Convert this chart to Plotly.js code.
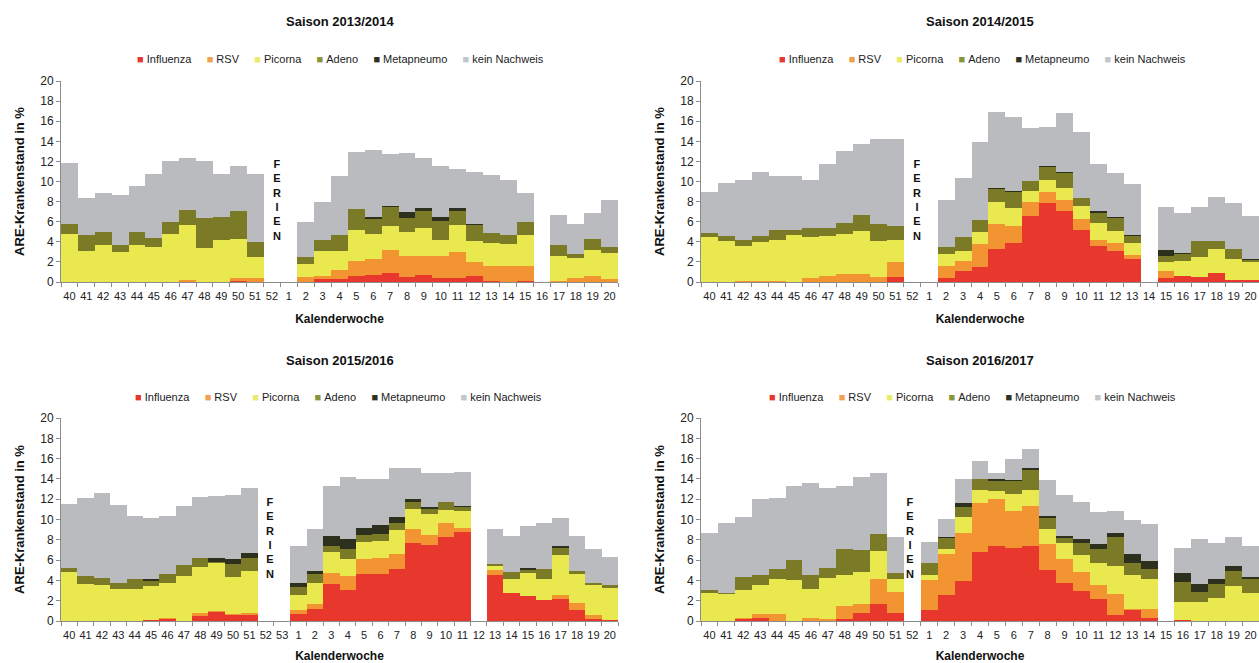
<!DOCTYPE html>
<html><head><meta charset="utf-8">
<script src="https://cdn.plot.ly/plotly-3.0.1.min.js"></script>
<style>html,body{margin:0;padding:0;background:#fff}#chart{width:1259px;height:663px}</style>
</head><body><div id="chart"></div>
<script>
const seriesNames = ["Influenza", "RSV", "Picorna", "Adeno", "Metapneumo", "kein Nachweis"];
const seriesColors = ["#e8372c", "#f39433", "#e9e84e", "#7b7a27", "#2d301d", "#b9bbbe"];
const legendColors = ["#e8372c", "#f0a050", "#eaea70", "#86963a", "#2d301d", "#c4c6c9"];
const seasonTitles = ["Saison 2013/2014", "Saison 2014/2015", "Saison 2015/2016", "Saison 2016/2017"];

const weeksStd = ["40","41","42","43","44","45","46","47","48","49","50","51","52","1","2","3","4","5","6","7","8","9","10","11","12","13","14","15","16","17","18","19","20"];
const weeks53 = ["40","41","42","43","44","45","46","47","48","49","50","51","52","53","1","2","3","4","5","6","7","8","9","10","11","12","13","14","15","16","17","18","19","20"];

// Saison 2013/2014
const inf1314  = [0,0,0,0,0,0,0,0.05,0,0,0.1,0.05,0,0,0.05,0.3,0.3,0.63,0.73,0.93,0.53,0.73,0.4,0.4,0.56,0.07,0,0.13,0,0,0,0,0];
const rsv1314  = [0,0,0,0,0,0,0,0.1,0,0,0.3,0.3,0,0,0.45,0.26,0.85,1.5,1.55,2.3,2.1,1.9,2.15,2.55,1.45,1.55,1.6,1.5,0,0.07,0.43,0.56,0.3];
const pic1314  = [4.8,3.1,3.7,3.0,3.7,3.5,4.8,5.55,3.35,4.15,3.9,2.15,0,0,1.3,2.5,1.95,3.0,2.5,2.3,2.35,2.75,1.65,2.75,2.05,2.3,2.2,3.0,0,2.5,2.0,2.65,2.6];
const ade1314  = [1.0,1.6,1.3,0.7,1.3,0.9,1.2,1.5,3.0,2.3,2.75,1.5,0,0,0.7,1.1,1.6,2.15,1.5,1.9,1.4,1.65,1.9,1.4,1.6,0.95,0.9,1.3,0,1.1,0.35,1.05,0.6];
const meta1314 = [0,0,0,0,0,0,0,0,0,0,0,0,0,0,0,0,0,0,0.23,0.15,0.55,0.33,0.33,0.23,0.13,0,0,0,0,0,0,0,0];
const kein1314 = [6.0,3.7,3.9,5.0,4.6,6.3,6.0,5.1,5.7,4.3,4.45,6.75,0,0,3.5,3.8,5.85,5.7,6.6,5.2,5.9,5.0,5.1,3.9,5.2,5.8,5.4,2.9,0,3.0,3.0,2.6,4.7];

// Saison 2014/2015
const inf1415  = [0,0,0,0,0,0,0,0,0,0,0,0.46,0,0,0.4,1.13,1.46,3.28,3.87,6.52,7.9,7.1,5.13,3.6,3.1,2.3,0,0.4,0.56,0.46,0.9,0.17,0.15];
const rsv1415  = [0,0,0.1,0.1,0.13,0,0.4,0.56,0.76,0.83,0.46,1.5,0,0,1.15,1.0,2.3,2.5,1.75,1.4,1.1,1.05,1.15,0.6,0.75,0.35,0,0.65,0,0,0,0,0];
const pic1415  = [4.45,4.05,3.45,3.85,4.0,4.65,4.05,4.0,4.0,4.2,3.6,2.25,0,0,1.25,1.0,1.25,2.15,1.7,1.1,1.15,1.25,1.25,1.65,1.25,1.25,0,0.9,1.55,2.0,2.4,2.1,1.8];
const ade1415  = [0.4,0.55,0.6,0.6,1.0,0.55,0.9,0.8,1.1,1.65,1.7,1.4,0,0,0.65,1.3,1.15,1.3,1.65,1.05,1.3,1.4,0.8,1.0,1.25,0.7,0,0.65,0.65,1.65,0.75,1.0,0.2];
const meta1415 = [0,0,0,0,0,0,0,0,0,0,0,0,0,0,0,0,0,0.15,0.1,0,0.1,0.1,0,0.25,0.15,0.1,0,0.55,0.1,0,0,0,0.1];
const kein1415 = [4.15,5.25,5.95,6.4,5.4,5.35,4.8,6.35,7.2,7.1,8.45,8.65,0,0,4.7,5.9,7.8,7.5,7.3,5.3,3.9,5.95,6.6,4.65,4.3,5.05,0,4.35,4.05,3.4,4.4,4.55,4.35];

// Saison 2015/2016
const inf1516  = [0,0,0,0,0,0.13,0.2,0,0.46,0.89,0.56,0.63,0,0,0.72,1.15,3.6,3.1,4.68,4.6,5.17,7.65,7.5,8.3,8.8,0,4.5,2.77,2.44,2.04,2.17,1.12,0.23,0.13];
const rsv1516  = [0,0,0,0,0,0,0.13,0,0.33,0.07,0.16,0.2,0,0,0.33,0.55,1.1,1.3,1.38,1.6,1.4,1.4,1.0,1.4,0.4,0,0.5,0,0,0,0.43,0.66,0.33,0];
const pic1516  = [4.85,3.6,3.55,3.2,3.15,3.3,3.45,4.45,4.55,4.75,3.6,4.1,0,0,1.55,2.05,2.05,1.75,1.75,1.65,2.35,2.0,2.0,1.25,1.65,0,0.43,1.4,2.3,2.1,3.9,2.83,2.97,3.15];
const ade1516  = [0.4,0.85,0.7,0.55,1.0,0.55,0.9,1.1,0.85,0.15,1.3,1.3,0,0,0.75,0.9,0.6,0.9,0.65,0.75,0.7,0.7,0.5,0.75,0.35,0,0.23,0.66,0.33,0.95,0.65,0.3,0.23,0.25];
const meta1516 = [0,0,0,0,0,0.13,0,0,0,0.35,0.5,0.5,0,0,0.35,0.25,1.0,1.0,0.72,0.85,0.6,0.3,0.25,0,0.15,0,0,0,0.2,0,0.25,0,0,0];
const kein1516 = [6.25,7.65,8.4,7.7,6.2,6.05,5.65,5.8,6.0,6.15,6.3,6.35,0,0,3.7,4.2,5.0,6.1,4.8,4.55,4.85,3.0,3.3,2.85,3.3,0,3.4,3.5,4.1,4.6,2.75,3.5,3.3,2.75];

// Saison 2016/2017
const inf1617  = [0,0,0.16,0.33,0,0,0,0,0.23,0.79,1.65,0.82,0,1.05,2.6,3.92,6.82,7.38,7.15,7.41,5.01,3.76,2.97,2.21,0.63,1.12,0.33,0,0.05,0,0,0,0];
const rsv1617  = [0,0,0.17,0.33,0.66,0,0.33,0.23,1.22,0.92,2.45,2.05,0,2.97,4.0,4.78,4.84,4.6,3.72,3.92,2.54,2.3,1.87,1.32,2.07,0.03,0.82,0,0,0,0,0,0];
const pic1617  = [2.77,2.65,2.7,2.93,3.45,4.0,2.8,4.05,3.13,3.13,2.83,1.22,0,0.5,0.48,1.5,1.26,0.86,1.62,1.6,1.5,1.65,1.65,2.2,2.7,3.36,2.97,0,1.83,1.88,2.31,3.46,2.77];
const ade1617  = [0.33,0.15,1.32,0.92,1.05,2.05,1.4,0.95,2.47,2.2,1.6,0.6,0,1.15,1.1,1.0,1.05,1.0,1.3,1.97,1.07,0.5,1.22,1.32,2.84,1.22,1.05,0,1.98,0.99,1.31,1.45,1.35];
const meta1617 = [0,0,0,0,0,0,0,0,0,0,0,0,0,0,0.05,0.4,0,0.13,0.1,0.17,0.26,0.2,0.33,0.5,0.46,0.86,0.73,0,0.88,0.82,0.5,0.49,0.23];
const kein1617 = [5.6,6.9,5.85,7.5,7.0,7.25,9.05,7.85,6.3,7.1,6.1,3.6,0,2.15,1.8,2.37,1.81,0.66,2.05,1.9,3.52,4.0,3.66,3.22,2.17,3.36,3.66,0,2.41,4.35,3.59,2.9,3.06];

const seasons = [
  {weeks: weeksStd, data: [inf1314, rsv1314, pic1314, ade1314, meta1314, kein1314], ferien: 12.31},
  {weeks: weeksStd, data: [inf1415, rsv1415, pic1415, ade1415, meta1415, kein1415], ferien: 12.28},
  {weeks: weeks53,  data: [inf1516, rsv1516, pic1516, ade1516, meta1516, kein1516], ferien: 12.24},
  {weeks: weeksStd, data: [inf1617, rsv1617, pic1617, ade1617, meta1617, kein1617], ferien: 11.85}
];

const W = 1259, H = 663;
const panels = [
  {x0: 61, x1: 618, y0: 81, y1: 282, titleY: 22, legY: 59, legX: 340},
  {x0: 701, x1: 1259, y0: 81, y1: 282, titleY: 22, legY: 59, legX: 982},
  {x0: 61, x1: 618, y0: 418, y1: 621, titleY: 361, legY: 397, legX: 338},
  {x0: 701, x1: 1259, y0: 418, y1: 621, titleY: 361, legY: 397, legX: 972}
];

const FONT = "Liberation Sans, Arial, sans-serif";
const NB = "\u00a0";
const legendText = seriesNames.map((nm, j) =>
  '<span style="color:' + legendColors[j] + '">\u25A0</span>' + NB + nm
).join(NB.repeat(5));

const traces = [];
const layout = {
  width: W, height: H,
  margin: {l: 0, r: 0, t: 0, b: 0},
  paper_bgcolor: "#fff", plot_bgcolor: "#fff",
  barmode: "stack", bargap: 0,
  font: {family: FONT, size: 11, color: "#222"},
  annotations: [],
  showlegend: false
};

seasons.forEach((s, i) => {
  const k = i + 1;
  const xa = "x" + (k === 1 ? "" : k), ya = "y" + (k === 1 ? "" : k);
  s.data.forEach((vals, j) => {
    traces.push({
      type: "bar", x: s.weeks, y: vals, name: seriesNames[j],
      xaxis: xa, yaxis: ya, showlegend: false,
      marker: {color: seriesColors[j], line: {width: 0}},
      hoverinfo: "name+y"
    });
  });
  const p = panels[i];
  const n = s.weeks.length;
  layout["xaxis" + (k === 1 ? "" : k)] = {
    domain: [p.x0 / W, p.x1 / W], anchor: ya,
    type: "category", categoryorder: "array", categoryarray: s.weeks,
    range: [-0.5, n - 0.5], fixedrange: true,
    showline: true, linecolor: "#8c8c8c", linewidth: 1,
    ticks: "outside", ticklen: 4, tickcolor: "#8c8c8c", tickson: "boundaries",
    ticklabelstandoff: 4,
    tickangle: 0, tickfont: {size: 11, color: "#222", family: FONT},
    showgrid: false, zeroline: false,
    title: {text: "<b>Kalenderwoche</b>", font: {size: 12, color: "#111", family: FONT}, standoff: 13}
  };
  layout["yaxis" + (k === 1 ? "" : k)] = {
    domain: [1 - p.y1 / H, 1 - p.y0 / H], anchor: xa,
    range: [0, 20], dtick: 2, tick0: 0, fixedrange: true,
    showline: true, linecolor: "#8c8c8c", linewidth: 1,
    ticks: "outside", ticklen: 4, tickcolor: "#8c8c8c",
    tickfont: {size: 12, color: "#222", family: FONT},
    showgrid: false, zeroline: false,
    title: {text: "<b>ARE-Krankenstand in %</b>", font: {size: 13, color: "#111", family: FONT}, standoff: 12}
  };
  layout.annotations.push({
    xref: "paper", yref: "paper",
    x: (p.x0 + p.x1) / 2 / W, y: 1 - p.titleY / H,
    xanchor: "center", yanchor: "middle", showarrow: false,
    text: "<b>" + seasonTitles[i] + "</b>",
    font: {size: 13, color: "#111", family: FONT}
  });
  layout.annotations.push({
    xref: "paper", yref: "paper",
    x: p.legX / W, y: 1 - p.legY / H,
    xanchor: "center", yanchor: "middle", showarrow: false,
    text: legendText,
    font: {size: 11, color: "#222", family: FONT}
  });
  layout.annotations.push({
    xref: xa + " domain", yref: ya + " domain",
    x: (s.ferien + 0.5) / n, y: 0.41,
    xanchor: "center", yanchor: "middle", showarrow: false,
    text: "<b>F<br>E<br>R<br>I<br>E<br>N</b>",
    font: {size: 11, color: "#111", family: FONT}
  });
});

Plotly.newPlot("chart", traces, layout, {displayModeBar: false, staticPlot: true});
</script>
</body></html>
